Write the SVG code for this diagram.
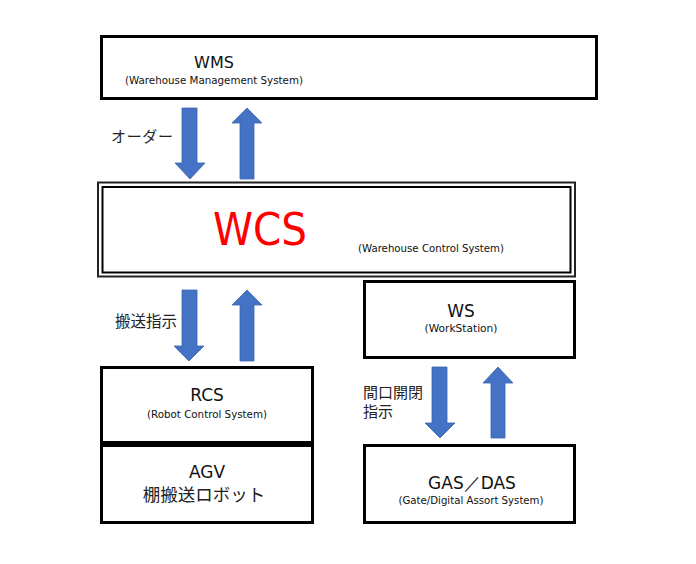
<svg xmlns="http://www.w3.org/2000/svg" width="696" height="564" viewBox="0 0 696 564">
<style>
.box{fill:#fff;stroke:#000;stroke-width:3}
.t{font-family:"DejaVu Sans","Liberation Sans",sans-serif;fill:#111;text-anchor:middle}
.jp{font-family:"Noto Sans CJK JP","DejaVu Sans",sans-serif;fill:#222}
.arr{fill:#4472C4;stroke:#3B64AE;stroke-width:0.8}
</style>
<rect width="696" height="564" fill="#fff"/>
<g id="wms">
<rect class="box" x="101.5" y="36.5" width="495" height="62"/>
<text class="t" x="214" y="68" font-size="16">WMS</text>
<text class="t" x="214" y="84" font-size="10" textLength="178" lengthAdjust="spacingAndGlyphs">(Warehouse Management System)</text>
</g>
<g id="wcs">
<rect x="98" y="182.5" width="477" height="94" fill="#fff" stroke="#222" stroke-width="2"/>
<rect x="102.5" y="187" width="468" height="85.5" fill="#fff" stroke="#000" stroke-width="2"/>
<text class="t" x="260" y="245" font-size="44" style="fill:#ff0000" textLength="94" lengthAdjust="spacingAndGlyphs">WCS</text>
<text class="t" x="431" y="252" font-size="10" textLength="146" lengthAdjust="spacingAndGlyphs">(Warehouse Control System)</text>
</g>
<g id="ws">
<rect class="box" x="364.5" y="281.5" width="210" height="76"/>
<text class="t" x="461" y="317" font-size="17">WS</text>
<text class="t" x="461" y="332" font-size="10" textLength="73" lengthAdjust="spacingAndGlyphs">(WorkStation)</text>
</g>
<g id="rcs">
<rect class="box" x="101.5" y="367.5" width="211" height="75"/>
<text class="t" x="207" y="401" font-size="17">RCS</text>
<text class="t" x="207" y="418" font-size="10" textLength="120" lengthAdjust="spacingAndGlyphs">(Robot Control System)</text>
</g>
<g id="agv">
<rect class="box" x="101.5" y="445.5" width="211" height="77"/>
<text class="t" x="207" y="478" font-size="17">AGV</text>
<text class="jp" x="204" y="501" font-size="17.5" text-anchor="middle">棚搬送ロボット</text>
</g>
<g id="gas">
<rect class="box" x="364.5" y="445.5" width="210" height="77"/>
<text class="t" x="472" y="489" font-size="17">GAS／DAS</text>
<text class="t" x="471" y="504" font-size="10" textLength="145" lengthAdjust="spacingAndGlyphs">(Gate/Digital Assort System)</text>
</g>
<g id="connectors">
<polygon class="arr" points="182,108 197,108 197,163 205,163 190,179 175,163 182,163"/>
<polygon class="arr" points="247,108 262,123 254,123 254,179 240,179 240,123 232,123"/>
<polygon class="arr" points="182,290 197,290 197,346 204,346 189,361 174,346 182,346"/>
<polygon class="arr" points="247,290 262,305 254,305 254,361 240,361 240,305 232,305"/>
<polygon class="arr" points="432,367 447,367 447,423 455,423 440,438 425,423 432,423"/>
<polygon class="arr" points="498,367 513,383 505,383 505,438 491,438 491,383 483,383"/>
<text class="jp" x="111" y="142" font-size="15" textLength="62">オーダー</text>
<text class="jp" x="115" y="327" font-size="15.5">搬送指示</text>
<text class="jp" x="363" y="398" font-size="15">間口開閉</text>
<text class="jp" x="363" y="417" font-size="15">指示</text>
</g>
</svg>
